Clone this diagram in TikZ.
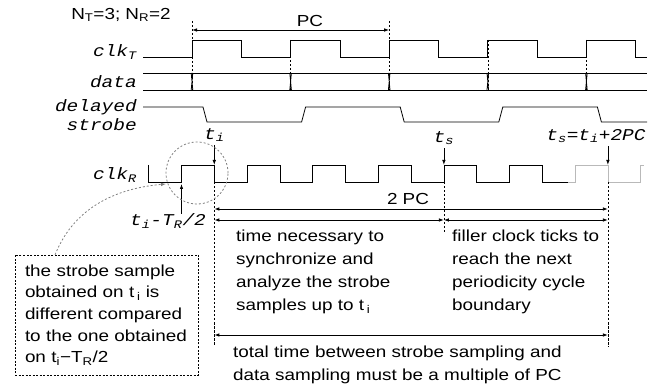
\documentclass[tikz,border=0pt]{standalone}
\usepackage{fontspec}
\setmainfont{Liberation Sans}[FakeStretch=1.18]
\setmonofont{Liberation Mono}[FakeStretch=1.18]
\usetikzlibrary{arrows.meta, calc}
\tikzset{
  wave/.style={line width=0.8pt},
  faded/.style={line width=0.8pt, gray!55},
  guide/.style={line width=0.6pt, dash pattern=on 2.5pt off 1.5pt},
  hint/.style={line width=0.8pt, gray, dash pattern=on 2pt off 2pt},
  sig/.style={font={\ttfamily\itshape\fontsize{16.5}{17}\selectfont}, anchor=east, inner sep=0pt},
  tlbl/.style={font={\ttfamily\itshape\fontsize{16.5}{17}\selectfont}, inner sep=0pt},
  plain/.style={font={\fontsize{16}{19}\selectfont}, inner sep=0pt},
  note/.style={font={\fontsize{16}{23}\selectfont}, align=left, anchor=north west, inner sep=0pt},
  notebox/.style={draw, line width=0.6pt, dash pattern=on 2pt off 1.5pt,
    font={\fontsize{16}{21.7}\selectfont}, align=left, text width=163pt,
    inner xsep=10pt, minimum width=183pt, minimum height=120pt},
  span/.style={line width=0.8pt, {Latex[length=5pt,width=3.5pt]}-{Latex[length=5pt,width=3.5pt]}},
  pointer/.style={line width=0.8pt, -{Latex[length=5pt,width=3.5pt]}},
}

\begin{document}
\begin{tikzpicture}[x=1pt, y=-1pt]
  \useasboundingbox (0,0) rectangle (657,385);
  % header and signal names
  \node[plain] (nn) at (121,15) {N\textsubscript{T}=3; N\textsubscript{R}=2};
  \node[sig] (clkT) at (137,52) {clk\textsubscript{T}};
  \node[sig] (data) at (137,82) {data};
  \node[sig] (dly) at (137,107) {delayed};
  \node[sig] (stb) at (137,125) {strobe};
  \node[sig] (clkR) at (137,175) {clk\textsubscript{R}};
  % transmit clock and data
  \draw[wave] (143,57) foreach \x in {192,290.6,389.2,487.8,586.4}
    { -- (\x,57) -- (\x,40) -- (\x+49.3,40) -- (\x+49.3,57) } -- (647,57);
  \draw[wave] (143,73) -- (647,73) (143,90) -- (647,90);
  \foreach \x in {192,290.6,389.2,487.8,586.4}
    \draw[wave] (\x-0.8,73) -- (\x+0.8,90) (\x+0.8,73) -- (\x-0.8,90);
  \foreach \x in {192,389.2}
    \draw[guide] (\x,21) -- (\x,92);
  \foreach \x in {290.6,487.8,586.4}
    \draw[guide] (\x,40) -- (\x,92);
  % periodicity cycle
  \coordinate (pcL) at (192,30);
  \coordinate (pcR) at (389.2,30);
  \draw[span] (pcL) -- (pcR);
  \node[plain] (pc) at (310,21) {PC};
  % delayed strobe
  \draw[wave] (143,107) -- (203,107) -- (207,122) -- (301.6,122) -- (305.6,107)
    -- (400.2,107) -- (404.2,122) -- (498.8,122) -- (502.8,107)
    -- (597.4,107) -- (601.4,122) -- (647,122);
  % receive clock
  \draw[wave] (148,165) -- (148,182) foreach \x in {181.5,247.1,312.7,378.3,443.9,509.5}
    { -- (\x,182) -- (\x,165) -- (\x+32.8,165) -- (\x+32.8,182) } -- (568,182);
  \draw[faded] (568,182) -- (575.1,182) -- (575.1,165) -- (607.9,165) -- (607.9,182)
    -- (640.7,182) -- (640.7,165) -- (644,165);
  % sampling instants
  \coordinate (tI) at (214.3,165);
  \coordinate (tS) at (443.9,165);
  \coordinate (tE) at (607.9,165);
  \coordinate (half) at (181.5,184);
  \node[tlbl] (ti) at (214.3,135) {t\textsubscript{i}};
  \node[tlbl] (ts) at (443.9,138) {t\textsubscript{s}};
  \node[tlbl] (te) at (596,136) {t\textsubscript{s}=t\textsubscript{i}+2PC};
  \node[tlbl] (tih) at (168,221) {t\textsubscript{i}-T\textsubscript{R}/2};
  \draw[pointer] ([yshift=-3pt]ti.south) -- (tI);
  \draw[pointer] ([yshift=-3pt]ts.south) -- (tS);
  \draw[pointer] ([yshift=-3pt]te.south -| tE) -- (tE);
  \draw[pointer] (tih.north -| half) -- (half);
  \draw[guide] ([yshift=-17pt]tI) -- ([yshift=-180pt]tI);
  \draw[guide] ([yshift=-17pt]tS) -- ([yshift=-67pt]tS);
  \draw[guide] ([yshift=-17pt]tE) -- ([yshift=-182pt]tE);
  % time spans
  \draw[span] ([yshift=-44pt]tI) -- ([yshift=-44pt]tE);
  \node[plain] (twopc) at (408,199) {2 PC};
  \draw[span] ([yshift=-55pt]tI) -- ([yshift=-55pt]tS);
  \draw[span] ([yshift=-55pt]tS) -- ([yshift=-55pt]tE);
  \draw[span] ([yshift=-170pt]tI) -- ([yshift=-170pt]tE);
  \node[note] (sync) at (236,230) {time necessary to\\synchronize and\\analyze the strobe\\samples up to t\,\textsubscript{i}};
  \node[note] (fill) at (452,230) {filler clock ticks to\\reach the next\\periodicity cycle\\boundary};
  \node[note] (total) at (233,345.5) {total time between strobe sampling and\\data sampling must be a multiple of PC};
  % strobe sample remark
  \draw[hint] (197,173) circle[radius=31pt];
  \node[notebox] (box) at (106.5,315) {the strobe sample\\obtained on t\,\textsubscript{i} is\\different compared\\to the one obtained\\on t\textsubscript{i}−T\textsubscript{R}/2};
  \coordinate (samp) at (166,184);
  \draw[hint, -{Latex[length=5pt,width=3.5pt]}] ($(box.north west)!0.22!(box.north east)$)
    .. controls (75,205) and (120,188) .. (samp);
\end{tikzpicture}
\end{document}
